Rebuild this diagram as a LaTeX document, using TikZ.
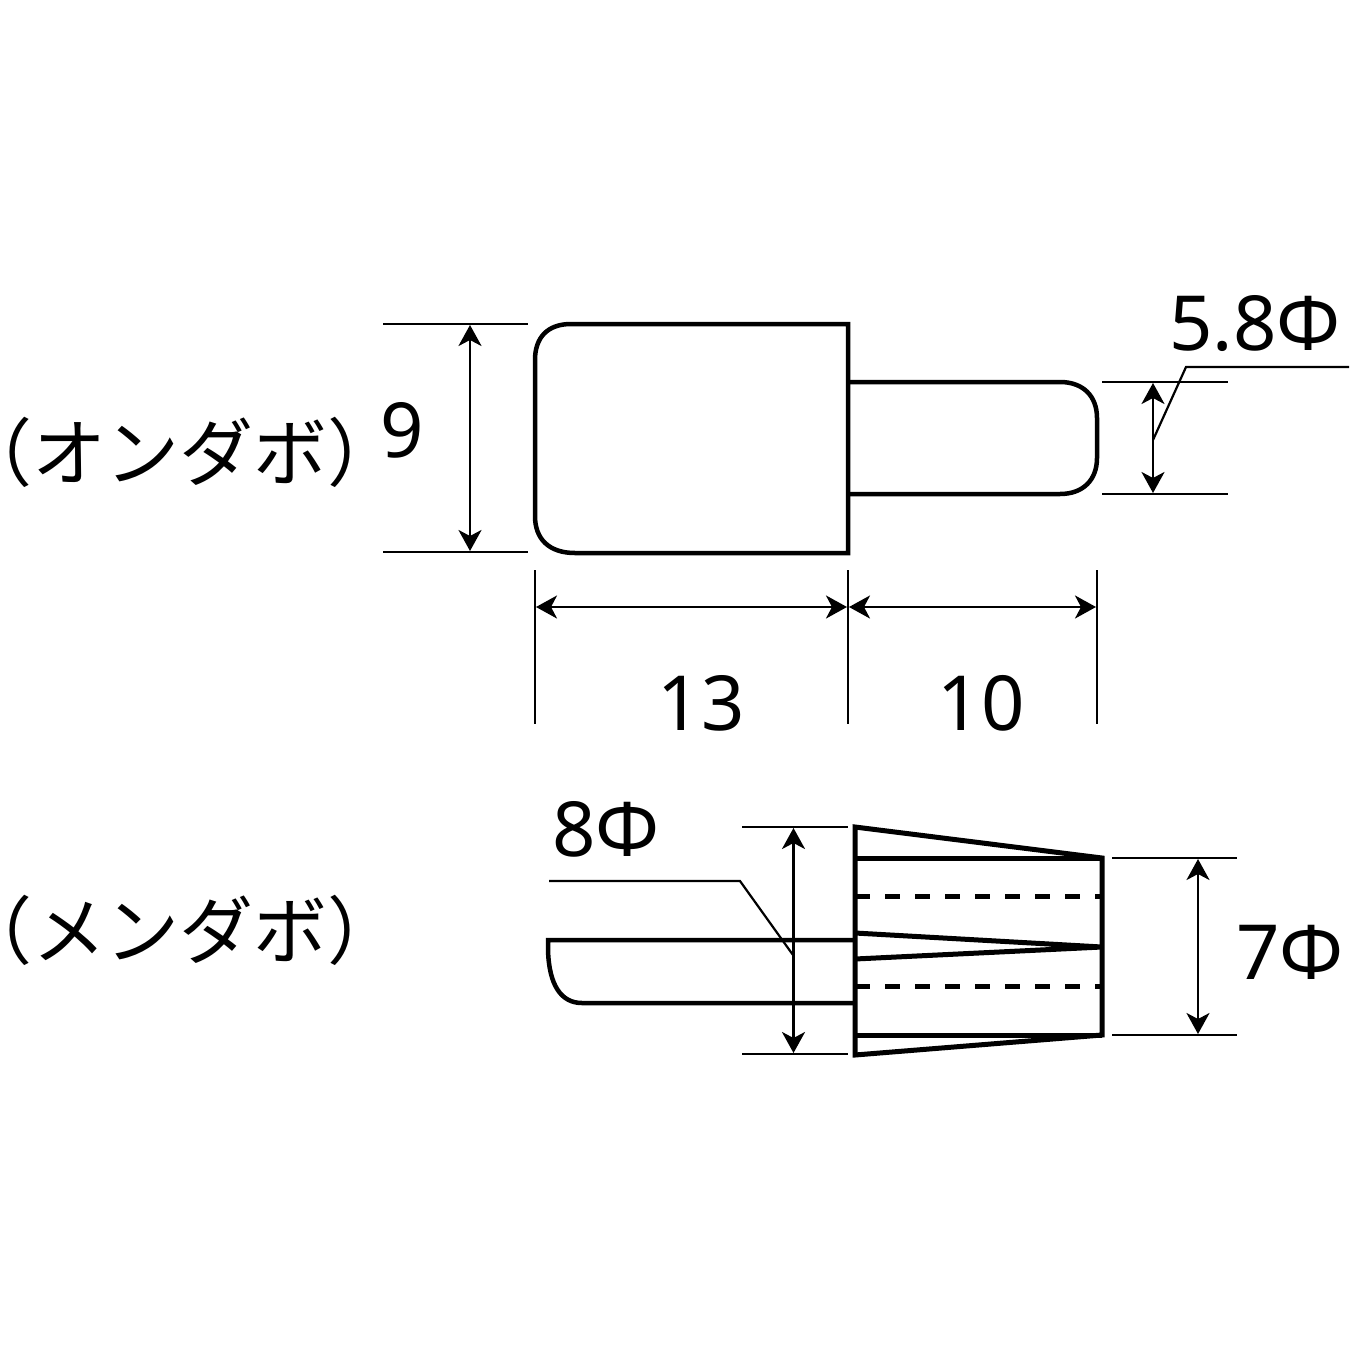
\documentclass[tikz,border=0pt]{standalone}
\usepackage{fontspec}
\setmainfont{Noto Sans}
\newfontfamily\jpfont{Noto Sans CJK JP}
\usetikzlibrary{arrows.meta}
\tikzset{
  x=1pt,y=-1pt,
  outline/.style={line width=4.5pt,line join=miter,black},
  thickline/.style={line width=5pt,black},
  hiddenline/.style={line width=5pt,black,dash pattern=on 15pt off 15pt},
  extline/.style={line width=2.2pt,black},
  dimline/.style={line width=2.6pt,black,{Stealth[length=21pt,width=23pt,inset=6pt]}-{Stealth[length=21pt,width=23pt,inset=6pt]}},
  leaderline/.style={line width=2.2pt,black},
  dimtext/.style={inner sep=0pt,font=\fontsize{76}{76}\selectfont},
  jptext/.style={inner sep=0pt,font=\fontsize{74}{74}\selectfont\jpfont}
}
\begin{document}
\begin{tikzpicture}
\useasboundingbox (0,0) rectangle (1352,1352);
\fill[white] (0,0) rectangle (1352,1352);

% upper part
\draw[outline] (848,324) -- (571,324) .. controls (547,324) and (535,338) .. (535,360) -- (535,516) .. controls (535,539) and (549,553) .. (575,553) -- (848,553) -- cycle;
\draw[outline] (848,382) -- (1060,382) .. controls (1083,382) and (1097,396) .. (1097,418) -- (1097,458) .. controls (1097,480) and (1083,494) .. (1060,494) -- (848,494);

\draw[extline] (383,324) -- (528,324);
\draw[extline] (383,552) -- (528,552);
\draw[dimline] (470,325) -- (470,551);
\draw[extline] (535,570) -- (535,724);
\draw[extline] (848,570) -- (848,724);
\draw[extline] (1097,570) -- (1097,724);
\draw[dimline] (536,607) -- (847,607);
\draw[dimline] (849,607) -- (1096,607);
\draw[extline] (1102,382) -- (1228,382);
\draw[extline] (1102,494) -- (1228,494);
\draw[dimline] (1153,383) -- (1153,493);
\draw[leaderline] (1349,367) -- (1186,367) -- (1153,440);

% lower part
\draw[thickline,line join=miter] (855,827) -- (1102,858) -- (1102,1035) -- (855,1055) -- cycle;
\draw[thickline] (855,858) -- (1102,858);
\draw[thickline] (855,1035) -- (1102,1035);
\draw[thickline,line join=miter] (855,933) -- (1102,947) -- (855,959);
\draw[hiddenline] (855,896) -- (1102,896);
\draw[hiddenline] (855,986) -- (1102,986);
\draw[outline] (855,940) -- (548,940) -- (548,950) .. controls (549,985) and (561,1003) .. (582,1003) -- (855,1003);

\draw[extline] (742,827) -- (848,827);
\draw[extline] (742,1054) -- (848,1054);
\draw[dimline] (793.5,828) -- (793.5,1053);
\draw[leaderline] (549,881) -- (740,881) -- (793,955);
\draw[extline] (1112,858) -- (1237,858);
\draw[extline] (1112,1035) -- (1237,1035);
\draw[dimline] (1198,859) -- (1198,1034);

% texts
\node[dimtext] (nine) at (402,430) {9};
\node[dimtext] (thirteen) at (701,703) {13};
\node[dimtext] (ten) at (981,703) {10};
\node[dimtext] (fiveeight) at (1255,324) {5.8Φ};
\node[dimtext] (eight) at (606,829) {8Φ};
\node[dimtext] (seven) at (1290,952) {7Φ};
\node[jptext] (onlabel) at (180,452) {\hspace*{-9pt}（オンダボ）\hspace*{-9pt}};
\node[jptext] (menlabel) at (180,930) {\hspace*{-9pt}（メンダボ）\hspace*{-9pt}};
\end{tikzpicture}
\end{document}
